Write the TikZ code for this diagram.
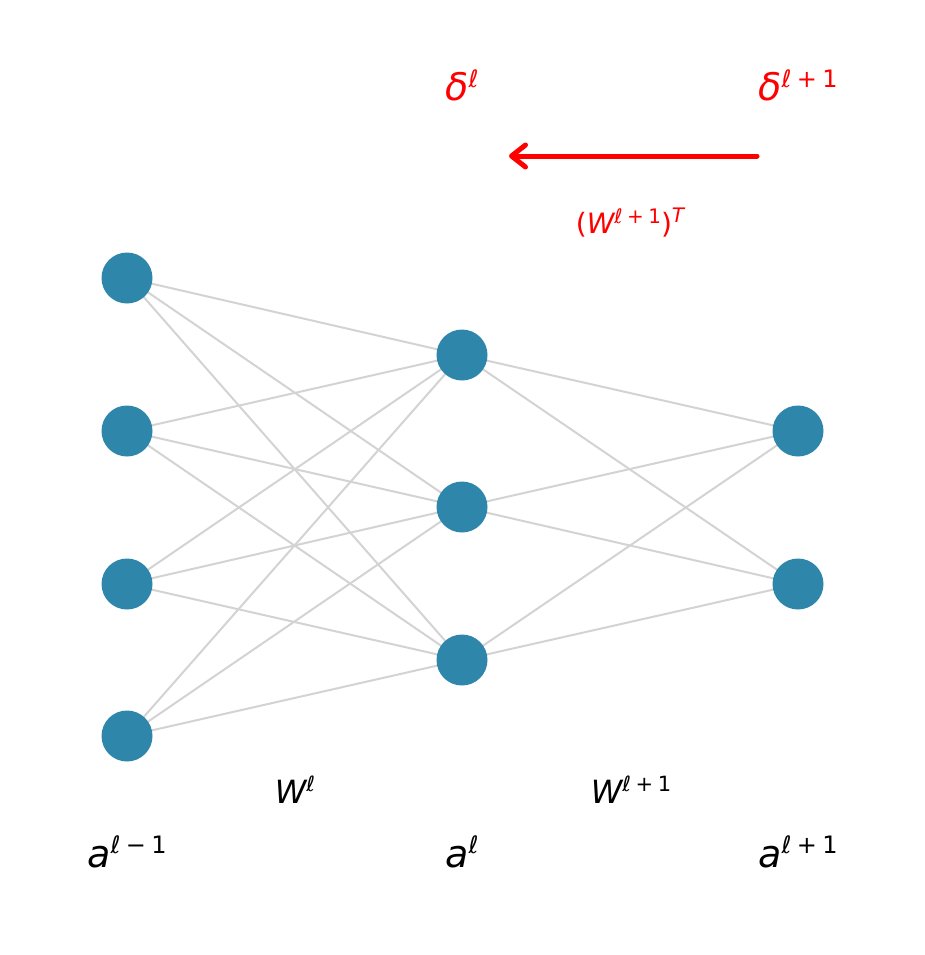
\documentclass[tikz,border=0pt]{standalone}
\usepackage{fontspec}
\setmainfont{DejaVu Sans}
\usetikzlibrary{arrows.meta,backgrounds}
\definecolor{unitcolor}{HTML}{2E86AB}
\definecolor{linkcolor}{HTML}{D3D3D3}
\newcommand{\upidx}[3]{\raisebox{#1}{\fontsize{#2}{#2}\selectfont #3}}
\newcommand{\bsp}{\hspace{0.22em}}
\begin{document}
\begin{tikzpicture}[x=1pt,y=-1pt,
  unit/.style={circle,fill=unitcolor,minimum size=51pt,inner sep=0pt},
  link/.style={linkcolor,line width=2pt},
  lbl/.style={anchor=base,inner sep=0pt,font=\fontsize{38}{44}\selectfont},
  wlbl/.style={lbl,font=\fontsize{32}{38}\selectfont},
  dlbl/.style={lbl,red}]
  \useasboundingbox (0,0) rectangle (925,955);
  \foreach \i/\y in {1/278,2/431,3/584,4/736}
    \node [unit] (a\i) at (127,\y) {};
  \foreach \j/\y in {1/355,2/507,3/660}
    \node [unit] (b\j) at (462,\y) {};
  \foreach \k/\y in {1/431,2/584}
    \node [unit] (c\k) at (798,\y) {};
  \begin{scope}[on background layer]
    \foreach \i in {1,...,4}
      \foreach \j in {1,2,3}
        \draw [link] (a\i.center) -- (b\j.center);
    \foreach \j in {1,2,3}
      \foreach \k in {1,2}
        \draw [link] (b\j.center) -- (c\k.center);
  \end{scope}
  \node [wlbl] (wl) at (295,803) {\itshape W\upidx{12pt}{21}{ℓ}};
  \node [wlbl] (wlp) at (631,803) {\itshape W\upidx{12pt}{21}{ℓ\bsp\upshape+\bsp1}};
  \node [lbl] (al0) at (127,867) {\itshape a\upidx{14pt}{24}{ℓ\bsp\upshape−\bsp1}};
  \node [lbl] (al1) at (462,867) {\itshape a\upidx{14pt}{24}{ℓ}};
  \node [lbl] (al2) at (798,867) {\itshape a\upidx{14pt}{24}{ℓ\bsp\upshape+\bsp1}};
  \node [dlbl] (dl1) at (462,101) {\itshape δ\upidx{13pt}{24}{ℓ}};
  \node [dlbl] (dl2) at (798,101) {\itshape δ\upidx{13pt}{24}{ℓ\bsp\upshape+\bsp1}};
  \node [lbl,red,font=\fontsize{28}{32}\selectfont] (wt) at (630,233)
    {\upshape(\itshape W\upidx{10pt}{20}{ℓ\bsp\upshape+\bsp1}\upshape)\upidx{11pt}{20}{\itshape T}};
  \coordinate (dfrom) at (757,156);
  \coordinate (dto) at (509,156);
  \draw [red,line width=5pt,line cap=round,-{Straight Barb[length=14pt,width=22pt,round]}] (dfrom) -- (dto);
\end{tikzpicture}
\end{document}
